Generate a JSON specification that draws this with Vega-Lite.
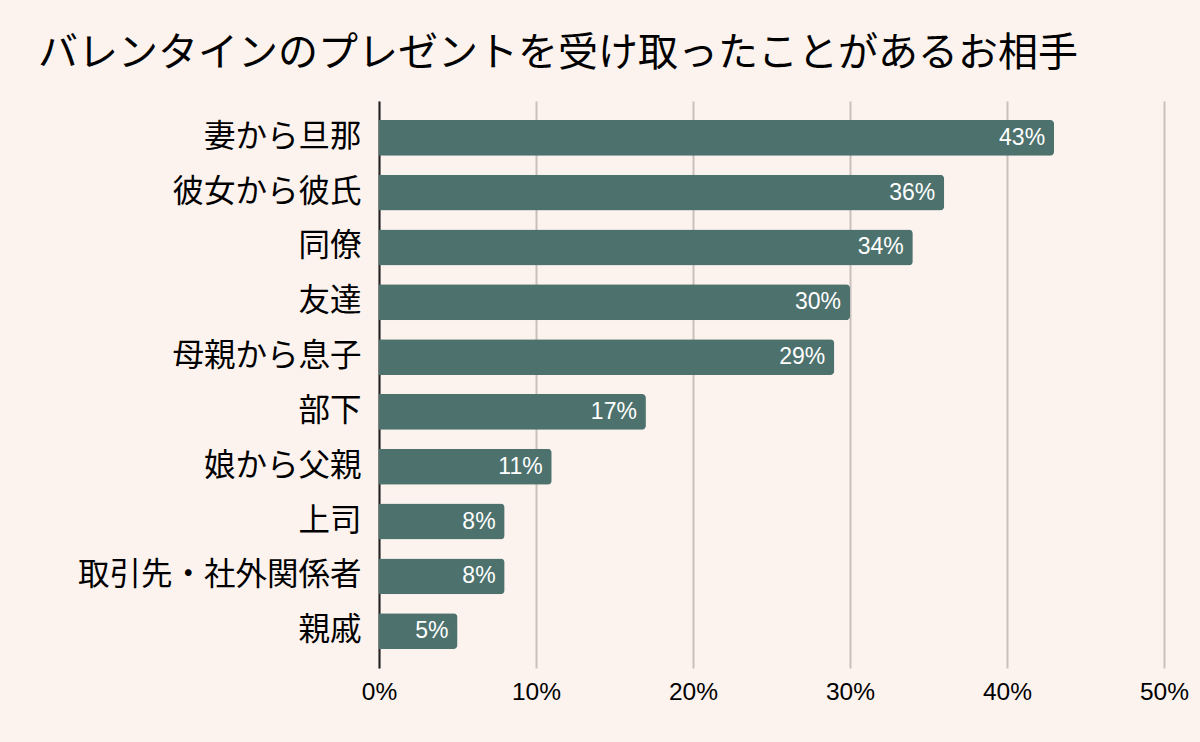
{
  "$schema": "https://vega.github.io/schema/vega-lite/v6.json",
  "width": 785,
  "height": 567,
  "autosize": {"type": "none"},
  "padding": {"left": 379, "top": 101, "right": 36, "bottom": 74},
  "background": "#FCF3EE",
  "title": {
    "text": "バレンタインのプレゼントを受け取ったことがあるお相手",
    "anchor": "start",
    "frame": "group",
    "dx": -341,
    "dy": 40,
    "offset": 35,
    "baseline": "alphabetic",
    "font": "Noto Sans CJK JP",
    "fontSize": 40,
    "fontWeight": "normal",
    "color": "#000000"
  },
  "config": {"view": {"stroke": null}},
  "data": {
    "values": [
      {"label": "妻から旦那", "value": 43},
      {"label": "彼女から彼氏", "value": 36},
      {"label": "同僚", "value": 34},
      {"label": "友達", "value": 30},
      {"label": "母親から息子", "value": 29},
      {"label": "部下", "value": 17},
      {"label": "娘から父親", "value": 11},
      {"label": "上司", "value": 8},
      {"label": "取引先・社外関係者", "value": 8},
      {"label": "親戚", "value": 5}
    ]
  },
  "encoding": {
    "y": {
      "field": "label",
      "type": "nominal",
      "sort": null,
      "scale": {"paddingInner": 0.345, "paddingOuter": 0.345},
      "axis": {
        "title": null,
        "ticks": false,
        "labelPadding": 18,
        "labelLimit": 400,
        "labelFont": "Noto Sans CJK JP",
        "labelFontSize": 31.5,
        "labelColor": "#000000",
        "domainColor": "#222222",
        "domainWidth": 2,
        "grid": false
      }
    },
    "x": {
      "field": "value",
      "type": "quantitative",
      "scale": {"domain": [0, 50], "nice": false},
      "axis": {
        "title": null,
        "values": [0, 10, 20, 30, 40, 50],
        "labelExpr": "datum.value + '%'",
        "labelFlush": false,
        "ticks": false,
        "domain": false,
        "labelPadding": 12,
        "labelFont": "Liberation Sans",
        "labelFontSize": 24.5,
        "labelColor": "#000000",
        "gridColor": "#C9C0BC",
        "gridWidth": 2,
        "gridOpacity": 1
      }
    }
  },
  "layer": [
    {
      "mark": {"type": "bar", "color": "#4D716D", "cornerRadiusEnd": 4}
    },
    {
      "transform": [{"calculate": "datum.value + '%'", "as": "pct"}],
      "mark": {
        "type": "text",
        "align": "right",
        "baseline": "middle",
        "dx": -9,
        "color": "#FFFFFF",
        "font": "Liberation Sans",
        "fontSize": 23,
        "fontWeight": "normal"
      },
      "encoding": {
        "text": {"field": "pct", "type": "nominal"}
      }
    }
  ]
}
